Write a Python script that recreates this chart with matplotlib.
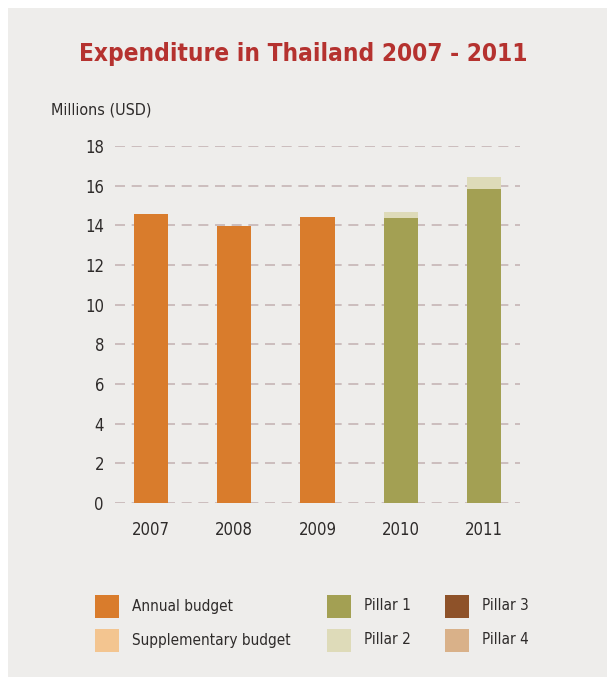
import matplotlib
matplotlib.use("Agg")
import matplotlib.pyplot as plt
from matplotlib.patches import Rectangle

plt.rcParams["font.family"] = ["DejaVu Sans"]
plt.rcParams["font.stretch"] = "condensed"

# data (millions USD)
years = ["2007", "2008", "2009", "2010", "2011"]
annual_budget = [14.55, 13.95, 14.42, 0.0, 0.0]
supplementary_budget = [0.0, 0.0, 0.0, 0.0, 0.0]
pillar_1 = [0.0, 0.0, 0.0, 14.39, 15.82]
pillar_2 = [0.0, 0.0, 0.0, 0.30, 0.60]
pillar_3 = [0.0, 0.0, 0.0, 0.0, 0.0]
pillar_4 = [0.0, 0.0, 0.0, 0.0, 0.0]
y_ticks = [0, 2, 4, 6, 8, 10, 12, 14, 16, 18]

series = [
    ("Annual budget", annual_budget, "#d97c2c"),
    ("Supplementary budget", supplementary_budget, "#f3c590"),
    ("Pillar 1", pillar_1, "#a3a053"),
    ("Pillar 2", pillar_2, "#dedbb9"),
    ("Pillar 3", pillar_3, "#8e5229"),
    ("Pillar 4", pillar_4, "#d9b189"),
]

W, H = 607, 677
fig = plt.figure(figsize=(W / 100, H / 100), dpi=100)
fig.patch.set_facecolor("white")

# paper background panel
bg = fig.add_axes([0, 0, 1, 1], zorder=-10)
bg.set_xlim(0, W)
bg.set_ylim(H, 0)
bg.axis("off")
bg.add_patch(Rectangle((8, 8), W - 8, H - 8, facecolor="#eeedeb", edgecolor="none"))

text_col = "#2e2b2a"

fig.text(0.5, 1 - 54 / H, "Expenditure in Thailand 2007 - 2011", ha="center",
         va="center", fontsize=17.5, fontweight="bold", color="#b5322f")
fig.text(51 / W, 1 - 110 / H, "Millions (USD)", ha="left", va="center",
         fontsize=11.5, color=text_col)

# main chart axes
ax = fig.add_axes([115 / W, (H - 503) / H, 405 / W, 357 / H])
ax.set_facecolor("none")
x = list(range(len(years)))
bottom = [0.0] * len(years)
for name, vals, col in series:
    ax.bar(x, vals, width=0.41, bottom=bottom, color=col, zorder=3)
    bottom = [b + v for b, v in zip(bottom, vals)]

ax.set_xlim(-0.43, 4.43)
ax.set_ylim(0, 18)
ax.set_yticks(y_ticks)
ax.set_xticks(x)
ax.set_xticklabels(years)
ax.tick_params(axis="both", length=0, labelsize=12, colors=text_col)
ax.tick_params(axis="y", pad=8)
ax.tick_params(axis="x", pad=13)
ax.grid(axis="y", color="#c6b5b5", linestyle=(0, (6, 4)), linewidth=1.2, zorder=1)
for spine in ax.spines.values():
    spine.set_visible(False)

# legend laid out in three columns, two rows
leg = fig.add_axes([0, 0, 1, 1], zorder=5)
leg.set_xlim(0, W)
leg.set_ylim(H, 0)
leg.axis("off")
col_x = [95, 327, 445]
row_y = [606, 640]
for i, (name, vals, col) in enumerate(series):
    cx = col_x[i // 2]
    cy = row_y[i % 2]
    leg.add_patch(Rectangle((cx, cy - 11.5), 24, 23, facecolor=col, edgecolor="none"))
    leg.text(cx + 37, cy, name, ha="left", va="center", fontsize=11, color=text_col)

fig.savefig("out.png", dpi=100)
